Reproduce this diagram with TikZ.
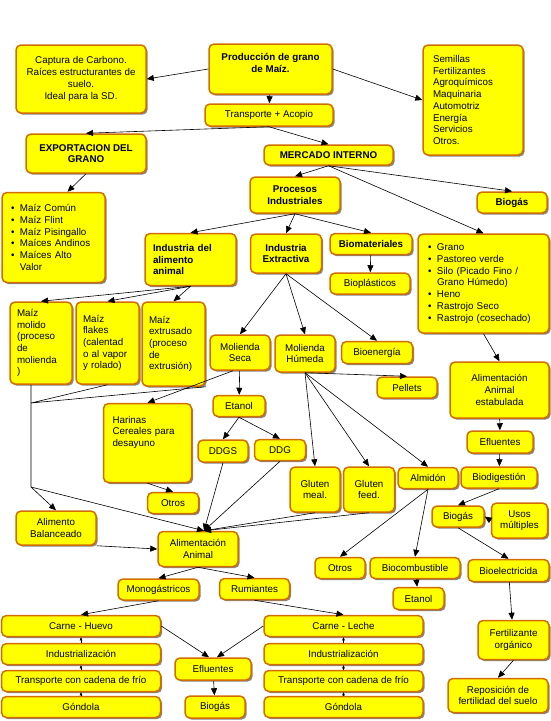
\documentclass[tikz,border=0pt]{standalone}
\usepackage{fontspec}
\setmainfont{Liberation Sans}
\usetikzlibrary{arrows.meta,shadows,calc}
\definecolor{yel}{RGB}{255,255,0}
\definecolor{brn}{RGB}{210,110,0}
\newcommand\itm{\makebox[9pt][l]{\textbullet}}

\begin{document}
\begin{tikzpicture}[x=1pt,y=-1pt,
  box/.style={draw=brn,fill=yel,line width=1.5pt,rounded corners=5pt,
    drop shadow={shadow xshift=1.6pt,shadow yshift=-1.6pt,fill=black!60,opacity=.8},
    font=\fontsize{9.8}{11.7}\selectfont,align=center,inner sep=1pt},
  bbox/.style={box,font=\fontsize{9.8}{11.7}\selectfont\bfseries},
  sz/.style 2 args={minimum width=#1pt,minimum height=#2pt},
  lft/.style 2 args={text width=#1pt,inner xsep=#2pt,align=left},
  arr/.style={-{Triangle[length=7pt,width=6pt]},line width=.6pt},
  stk/.style={-{Triangle[length=3pt,width=2.5pt]},line width=.4pt}]
\useasboundingbox (0,0) rectangle (550,721);

\node[box,sz={130}{68}] (capt) at (81,79) {Captura de Carbono.\\Raíces estructurantes de\\suelo.\\Ideal para la SD.};
\node[bbox,sz={123}{50}] (prod) at (270.5,69) {Producción de grano\\de Maíz.\\~};
\node[box,lft={80}{10},minimum height=110pt] (sem) at (473,100) {Semillas\\Fertilizantes\\Agroquímicos\\Maquinaria\\Automotriz\\Energía\\Servicios\\Otros.};
\node[box,sz={128}{22}] (trans) at (269,115) {Transporte + Acopio};
\node[bbox,sz={120}{39}] (expo) at (86,153.5) {EXPORTACION DEL\\GRANO};
\node[bbox,sz={129}{20}] (merc) at (328.5,155) {MERCADO INTERNO};
\node[bbox,sz={90}{36}] (proc) at (295,195) {Procesos\\Industriales};
\node[bbox,sz={70}{21}] (biogA) at (512,202.5) {Biogás};
\node[box,lft={85}{9},minimum height=90pt] (maiz) at (53.5,237.5) {\itm Maíz Común\\\itm Maíz Flint\\\itm Maíz Pisingallo\\\itm Maíces Andinos\\\itm Maíces Alto\\\hspace*{9pt}Valor};
\node[bbox,lft={75}{8},minimum height=52pt] (indal) at (190.5,259.5) {Industria del\\alimento\\animal};
\node[bbox,sz={71}{39}] (index) at (286,253.5) {Industria\\Extractiva};
\node[bbox,sz={82}{21}] (biom) at (371,244) {Biomateriales};
\node[box,sz={80}{21}] (biopl) at (370,283.5) {Bioplásticos};
\node[box,lft={111}{10},minimum height=99pt] (gran) at (483.5,283.5) {\itm Grano\\\itm Pastoreo verde\\\itm Silo (Picado Fino /\\\hspace*{9pt}Grano Húmedo)\\\itm Heno\\\itm Rastrojo Seco\\\itm Rastrojo (cosechado)};
\node[box,lft={48}{7},minimum height=82pt] (molido) at (41,343) {Maíz\\molido\\(proceso\\de\\molienda\\)};
\node[box,lft={49}{7},minimum height=82pt] (flakes) at (107.5,343) {Maíz\\flakes\\(calentad\\o al vapor\\y rolado)};
\node[box,lft={49}{7},minimum height=84pt] (extr) at (173.5,344) {Maíz\\extrusado\\(proceso\\de\\extrusión)};
\node[box,sz={60}{35}] (mseca) at (240,352.5) {Molienda\\Seca};
\node[box,sz={60}{37}] (mhum) at (305,353.5) {Molienda\\Húmeda};
\node[box,sz={71}{22}] (bioen) at (377,352.5) {Bioenergía};
\node[box,sz={60}{21}] (pell) at (407,387.5) {Pellets};
\node[box,sz={99}{56}] (estab) at (499.5,390) {Alimentación\\Animal\\estabulada};
\node[box,sz={52}{21}] (etan) at (239,406) {Etanol};
\node[box,lft={70}{9},minimum height=79pt] (harin) at (147.5,443) {Harinas\\Cereales para\\desayuno\\~\\~};
\node[box,sz={50}{22}] (ddgs) at (223,451) {DDGS};
\node[box,sz={51}{21}] (ddg) at (280,450) {DDG};
\node[box,sz={66}{22}] (eflR) at (500,442) {Efluentes};
\node[box,sz={50}{45}] (glm) at (315,489.5) {Gluten\\meal.};
\node[box,sz={51}{45}] (glf) at (369,489.5) {Gluten\\feed.};
\node[box,sz={60}{21}] (almi) at (428,478) {Almidón};
\node[box,sz={76}{21}] (biodig) at (499,477.5) {Biodigestión};
\node[box,sz={51}{21}] (otrA) at (173,503) {Otros};
\node[box,sz={52}{21}] (biogB) at (458,516.5) {Biogás};
\node[box,sz={56}{35}] (usos) at (519.5,520.5) {Usos\\múltiples};
\node[box,sz={80}{34}] (alibal) at (56,528) {Alimento\\Balanceado};
\node[box,sz={80}{35}] (alian) at (198,549) {Alimentación\\Animal};
\node[box,sz={50}{21}] (otrB) at (340,568) {Otros};
\node[box,sz={90}{21}] (bioc) at (415,568) {Biocombustible};
\node[box,sz={81}{22}] (bioel) at (508.5,570.5) {Bioelectricida};
\node[box,sz={51}{22}] (etanB) at (418.5,598.5) {Etanol};
\node[box,sz={81}{21}] (mono) at (158.5,589.5) {Monogástricos};
\node[box,sz={70}{21}] (rumi) at (254.5,589) {Rumiantes};
\foreach \s/\x/\c in {L/81/Carne - Huevo,R/343.5/Carne - Leche}{
  \node[box,sz={159}{21}] (car\s) at (\x,626) {\c};
  \node[box,sz={159}{21}] (ind\s) at (\x,654) {Industrialización};
  \node[box,sz={159}{21}] (tra\s) at (\x,681) {Transporte con cadena de frío};
  \node[box,sz={159}{21}] (gon\s) at (\x,707) {Góndola};
  \draw[stk] (ind\s) -- (car\s);
  \draw[stk] (tra\s) -- (ind\s);
  \draw[stk] (gon\s) -- (tra\s);
}
\node[box,sz={76}{22}] (eflB) at (213,669) {Efluentes};
\node[box,sz={60}{22}] (biogC) at (215,707) {Biogás};
\node[box,sz={71}{39}] (fert) at (513.5,640) {Fertilizante\\orgánico};
\node[box,sz={100}{34}] (repo) at (498,695.5) {Reposición de\\fertilidad del suelo};

\coordinate (j1) at (31,403);
\coordinate (j2) at (31,487);
\coordinate (aa) at ($(alian.north)+(6,0)$);

\draw[arr] (prod.west) -- (capt.east);
\draw[arr] (prod.east) -- (sem.west);
\draw[arr] (prod) -- (trans);
\draw[arr] (trans.south) -- (expo.north);
\draw[arr] (trans.south) -- (merc.north);
\draw[arr] (expo.south) -- ($(maiz.north)+(14,0)$);
\foreach \t in {proc,biogA,gran} \draw[arr] (merc.south) -- (\t.north);
\foreach \t in {indal,index,biom} \draw[arr] (proc.south) -- (\t.north);
\draw[arr] (biom) -- (biopl);
\foreach \t in {molido,flakes,extr} \draw[arr] (indal.south) -- (\t.north);
\foreach \t in {mseca,mhum,bioen} \draw[arr] (index.south) -- (\t.north);
\draw[arr] (gran.south) -- (estab.north);
\foreach \t in {pell,glm,glf,almi} \draw[arr] (mhum.south) -- (\t.north);
\draw[arr] (mseca) -- (etan);
\foreach \t in {ddgs,ddg} \draw[arr] (etan.south) -- (\t.north);
\draw[line width=.6pt] (molido.south -| j1) -- (j2) (flakes.south) -- (j1) -- (extr.south east);
\draw[arr] ($(mseca.south)+(-7,0)$) -- (harin.north);
\draw[arr] (j2) -- (alibal.north);
\draw[arr] (j2) -- (aa);
\draw[arr] (harin.south) -- (otrA.north);
\draw[arr] (alibal.south east) -- (alian.west);
\foreach \t in {ddgs,ddg,glm,glf} \draw[arr] (\t.south) -- (aa);
\foreach \t in {otrB,bioc} \draw[arr] (almi.south) -- (\t.north);
\draw[arr] (bioc) -- (etanB);
\draw[arr] (estab) -- (eflR);
\draw[arr] (eflR) -- (biodig);
\draw[arr] (biodig.south) -- (biogB.north);
\draw[arr] (usos.west) -- (biogB.east);
\draw[arr] (biogB.south) -- (bioel.north);
\draw[arr] (bioel) -- (fert);
\draw[arr] (fert.south) -- (repo.north);
\draw[arr] (alian.south) -- (mono.north);
\draw[arr] (alian.south) -- (rumi.north);
\draw[arr] (mono.south) -- (carL.north);
\draw[arr] (rumi.south) -- (carR.north);
\draw[arr] (carL.east) -- ($(eflB.north)+(-4,0)$);
\draw[arr] (carR.west) -- ($(eflB.north)+(4,0)$);
\draw[arr] (eflB) -- (biogC);
\end{tikzpicture}
\end{document}
